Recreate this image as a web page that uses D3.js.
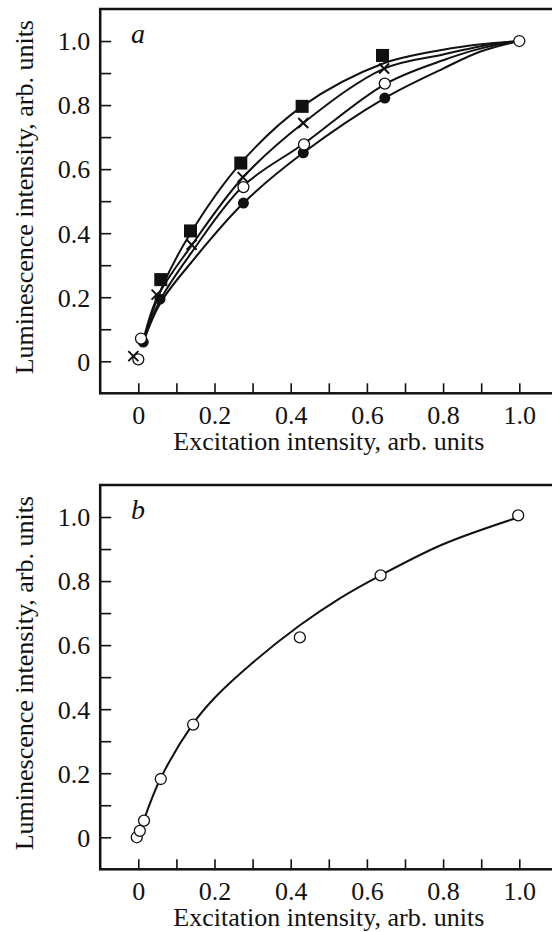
<!DOCTYPE html>
<html lang="en">
<head>
    <meta charset="UTF-8">
    <title>Luminescence vs excitation</title>
    <style>
        body { margin: 0; background: white; }
        svg text { font-family: "Liberation Serif", "Times New Roman", Times, serif; fill: #111; }
    </style>
</head>
<body>
    <div id="chart"></div>

    <script src="https://d3js.org/d3.v7.min.js"></script>
    <script>
        // Panel a: measured points (x = excitation, y = luminescence)
        const squaresA = [[0.059, 0.255], [0.137, 0.407], [0.269, 0.619], [0.430, 0.796], [0.641, 0.955]];
        const crossesA = [[-0.013, 0.016], [0.048, 0.208], [0.140, 0.364], [0.274, 0.575], [0.433, 0.744], [0.645, 0.914]];
        const openA = [[0.0, 0.006], [0.007, 0.071], [0.276, 0.544], [0.435, 0.677], [0.647, 0.867], [1.0, 1.0]];
        const filledA = [[0.013, 0.060], [0.057, 0.194], [0.276, 0.494], [0.433, 0.651], [0.647, 0.822]];

        // Panel a: fitted curves
        const curveSquares = [[0.01, 0.05], [0.06, 0.225], [0.137, 0.40], [0.269, 0.619], [0.43, 0.796], [0.641, 0.929], [0.8, 0.973], [0.9, 0.99], [1.0, 1.0]];
        const curveCrosses = [[0.01, 0.05], [0.05, 0.20], [0.14, 0.362], [0.274, 0.573], [0.433, 0.744], [0.645, 0.914], [0.8, 0.958], [0.9, 0.984], [1.0, 1.0]];
        const curveOpen = [[0.01, 0.05], [0.057, 0.19], [0.14, 0.34], [0.276, 0.548], [0.435, 0.68], [0.647, 0.865], [0.8, 0.94], [0.9, 0.977], [1.0, 1.0]];
        const curveFilled = [[0.01, 0.05], [0.057, 0.18], [0.14, 0.31], [0.276, 0.494], [0.433, 0.651], [0.647, 0.822], [0.8, 0.914], [0.9, 0.968], [1.0, 1.0]];

        // Panel b
        const openB = [[-0.004, 0.0], [0.004, 0.020], [0.015, 0.052], [0.059, 0.182], [0.144, 0.352], [0.424, 0.624], [0.636, 0.818], [0.997, 1.005]];
        const curveB = [[0.015, 0.055], [0.059, 0.185], [0.144, 0.355], [0.2, 0.435], [0.3, 0.545], [0.424, 0.662], [0.53, 0.747], [0.636, 0.818], [0.8, 0.915], [1.0, 1.0]];

        const tickValues = [0, 0.1, 0.2, 0.3, 0.4, 0.5, 0.6, 0.7, 0.8, 0.9, 1.0];
        const labelValues = [0, 0.2, 0.4, 0.6, 0.8, 1.0];
        const xTitle = 'Excitation intensity, arb. units';
        const yTitle = 'Luminescence intensity, arb. units';

        const W = 552, H = 932;
        const svg = d3.select('#chart').append('svg')
            .attr('width', W).attr('height', H)
            .attr('font-family', '"Liberation Serif", "Times New Roman", Times, serif');

        const fmt = v => v === 0 ? '0' : v.toFixed(1);
        const isLabel = d => labelValues.some(v => Math.abs(v - d) < 1e-9);

        function panel(top, letter) {
            // frame spans -0.1 .. 1.1 on both axes
            const x = d3.scaleLinear().domain([-0.1, 1.1]).range([100.2, 100.2 + 457.2]);
            const y = d3.scaleLinear().domain([-0.1, 1.1]).range([top + 384.3, top]);
            const g = svg.append('g');

            // frame (right edge falls outside the page)
            g.append('rect')
                .attr('x', x(-0.1)).attr('y', y(1.1))
                .attr('width', x(1.1) - x(-0.1) + 20).attr('height', y(-0.1) - y(1.1))
                .attr('fill', 'none').attr('stroke', '#111').attr('stroke-width', 2.5);

            const xAxis = d3.axisBottom(x).tickValues(tickValues).tickSizeInner(-10).tickSizeOuter(0).tickPadding(12)
                .tickFormat(d => isLabel(d) ? fmt(d) : '');
            const yAxis = d3.axisLeft(y).tickValues(tickValues).tickSizeInner(-11).tickSizeOuter(0).tickPadding(10)
                .tickFormat(d => isLabel(d) ? fmt(d) : '');

            const gx = g.append('g').attr('transform', 'translate(0,' + y(-0.1) + ')').call(xAxis);
            const gy = g.append('g').attr('transform', 'translate(' + x(-0.1) + ',0)').call(yAxis);
            [gx, gy].forEach(a => {
                a.attr('font-family', null).attr('font-size', null);
                a.select('.domain').remove();
                a.selectAll('line').attr('stroke', '#111').attr('stroke-width', 1.6);
                a.selectAll('text').style('font-size', '26px').attr('fill', '#111');
            });
            gx.selectAll('text').attr('dy', '0.71em');
            gy.selectAll('text').attr('dy', '0.34em');

            g.append('text')
                .attr('x', (x(0) + x(1)) / 2).attr('y', y(-0.1) + 57)
                .attr('text-anchor', 'middle').style('font-size', '26px')
                .text(xTitle);

            g.append('text')
                .attr('transform', 'translate(33,' + (y(0.5) - 4) + ') rotate(-90)')
                .attr('text-anchor', 'middle').style('font-size', '26px')
                .text(yTitle);

            g.append('text')
                .attr('x', 131).attr('y', y(1.0) + 2)
                .style('font-size', '28px').style('font-style', 'italic')
                .text(letter);

            return {g, x, y};
        }

        const line = (x, y) => d3.line().x(d => x(d[0])).y(d => y(d[1])).curve(d3.curveCatmullRom.alpha(0.5));

        // panel a
        const pa = panel(9, 'a');
        [curveSquares, curveCrosses, curveOpen, curveFilled].forEach(c => {
            pa.g.append('path').datum(c).attr('d', line(pa.x, pa.y))
                .attr('fill', 'none').attr('stroke', '#111').attr('stroke-width', 2);
        });
        pa.g.selectAll('.sq').data(squaresA).enter().append('rect')
            .attr('x', d => pa.x(d[0]) - 6.5).attr('y', d => pa.y(d[1]) - 6.5)
            .attr('width', 13).attr('height', 13).attr('fill', '#111');
        pa.g.selectAll('.fc').data(filledA).enter().append('circle')
            .attr('cx', d => pa.x(d[0])).attr('cy', d => pa.y(d[1])).attr('r', 5.5).attr('fill', '#111');
        pa.g.selectAll('.oc').data(openA).enter().append('circle')
            .attr('cx', d => pa.x(d[0])).attr('cy', d => pa.y(d[1])).attr('r', 5.5)
            .attr('fill', 'white').attr('stroke', '#111').attr('stroke-width', 1.3);
        pa.g.selectAll('.cr').data(crossesA).enter().append('path')
            .attr('transform', d => 'translate(' + pa.x(d[0]) + ',' + pa.y(d[1]) + ')')
            .attr('d', 'M-5,-5L5,5M-5,5L5,-5')
            .attr('stroke', '#111').attr('stroke-width', 2).attr('fill', 'none');

        // panel b
        const pb = panel(485, 'b');
        pb.g.append('path').datum(curveB).attr('d', line(pb.x, pb.y))
            .attr('fill', 'none').attr('stroke', '#111').attr('stroke-width', 2);
        pb.g.selectAll('.oc').data(openB).enter().append('circle')
            .attr('cx', d => pb.x(d[0])).attr('cy', d => pb.y(d[1])).attr('r', 5.5)
            .attr('fill', 'white').attr('stroke', '#111').attr('stroke-width', 1.3);
    </script>
</body>
</html>
